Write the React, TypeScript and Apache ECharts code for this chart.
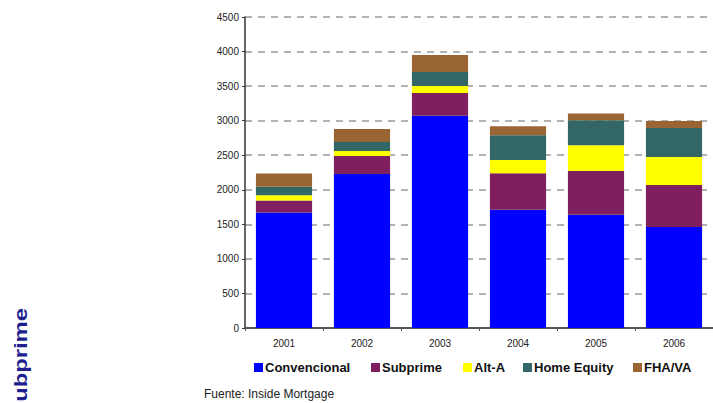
import React, { useEffect, useRef } from "react";
import * as echarts from "echarts";

const categories = ["2001", "2002", "2003", "2004", "2005", "2006"];
const convencional = [1670, 2230, 3070, 1710, 1640, 1460];
const subprime = [175, 260, 330, 530, 630, 610];
const altA = [75, 70, 100, 190, 375, 405];
const homeEquity = [125, 130, 205, 360, 360, 420];
const fhaVa = [190, 190, 245, 130, 100, 100];

const seriesNames = ["Convencional", "Subprime", "Alt-A", "Home Equity", "FHA/VA"];
const seriesValues = [convencional, subprime, altA, homeEquity, fhaVa];
const seriesColors = ["#0000FF", "#7F1F5F", "#FFFF00", "#336666", "#996633"];
const legendLefts = [254, 371, 463, 523, 633];

const FONT = "'Liberation Sans', Arial, sans-serif";

export default function App() {
  const ref = useRef<HTMLDivElement>(null);
  useEffect(() => {
    if (!ref.current) return;
    const chart = echarts.init(ref.current, null, { renderer: "svg" });
    chart.setOption({
      animation: false,
      backgroundColor: "#ffffff",
      textStyle: { fontFamily: FONT },
      grid: { left: 245, top: 17, bottom: 75, right: -6, containLabel: false },
      xAxis: {
        type: "category",
        data: categories,
        axisLine: { show: true, lineStyle: { color: "#555", width: 2 } },
        axisTick: { show: true, length: 3, lineStyle: { color: "#555" } },
        axisLabel: { fontSize: 10, color: "#222", margin: 10, fontFamily: FONT },
      },
      yAxis: {
        type: "value",
        min: 0,
        max: 4500,
        interval: 500,
        axisLine: { show: true, lineStyle: { color: "#333", width: 1.5 } },
        axisTick: { show: true, length: 3, lineStyle: { color: "#333" } },
        axisLabel: {
          fontSize: 10,
          color: "#222",
          margin: 6,
          fontFamily: FONT,
          formatter: (v: number) => String(v),
        },
        splitLine: { show: true, lineStyle: { color: "#999", width: 1.5, type: [7, 6] } },
      },
      legend: seriesNames.map((n, i) => ({
        data: [n],
        left: legendLefts[i],
        top: 361,
        padding: 0,
        itemWidth: 9,
        itemHeight: 9,
        icon: "rect",
        selectedMode: false,
        textStyle: { fontSize: 13, fontWeight: "bold", color: "#111", fontFamily: FONT, padding: [0, 0, 0, -3] },
      })),
      series: seriesNames.map((n, i) => ({
        name: n,
        type: "bar",
        stack: "total",
        data: seriesValues[i],
        barCategoryGap: "28%",
        itemStyle: { color: seriesColors[i] },
      })),
      graphic: [
        {
          type: "text",
          left: 204,
          top: 388,
          style: { text: "Fuente: Inside Mortgage", fill: "#222", font: `12px ${FONT}` },
        },
        {
          type: "text",
          x: 21,
          y: 355,
          rotation: Math.PI / 2,
          scaleX: 1.25,
          style: {
            text: "ubprime",
            font: `bold 19px ${FONT}`,
            fill: "#1f1f8f",
            textAlign: "center",
            textVerticalAlign: "middle",
          },
        },
      ],
    });
    return () => chart.dispose();
  }, []);
  return (
    <div
      ref={ref}
      style={{ position: "fixed", left: 0, top: 0, width: 713, height: 403 }}
    />
  );
}
